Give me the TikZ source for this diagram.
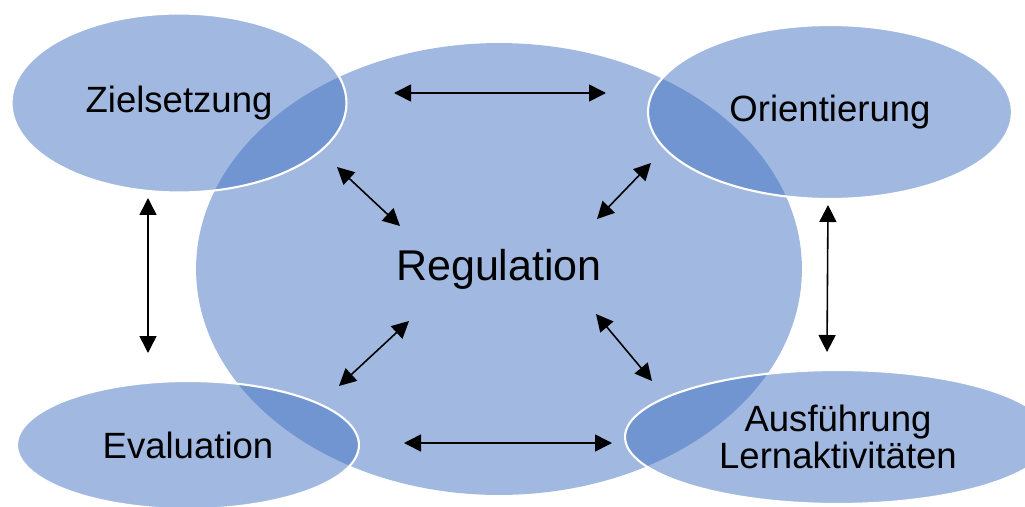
\documentclass[tikz,border=0pt]{standalone}
\usepackage{fontspec}
\setmainfont{Liberation Sans}
\usepackage{tikz}
\usetikzlibrary{shapes.geometric,arrows.meta}
\definecolor{phase}{RGB}{67,114,193}

\begin{document}
\begin{tikzpicture}[x=0.02cm,y=-0.02cm,>={Triangle[length=0.34cm,width=0.34cm]},
  phasebox/.style={ellipse,inner sep=0pt,fill=phase,fill opacity=0.5,text opacity=1,
    draw=white,line width=1.2pt,align=center,font=\fontsize{20.8}{21.5}\selectfont},
  link/.style={<->,line width=0.9pt}]
\useasboundingbox (0,0) rectangle (1025,507);
% central ellipse (no outline)
\node[phasebox,draw=none,minimum width=12.12cm,minimum height=9.04cm,
  font=\fontsize{24.5}{25}\selectfont] (reg) at (499,269) {Regulation};
% the four phases
\node[phasebox,minimum width=6.7cm,minimum height=3.58cm] (ziel) at (179,103) {Zielsetzung};
\node[phasebox,minimum width=7.28cm,minimum height=3.48cm] (orient) at (830,112) {Orientierung};
\node[phasebox,minimum width=6.84cm,minimum height=2.56cm] (eval) at (188,445) {Evaluation};
\node[phasebox,minimum width=8.52cm,minimum height=2.68cm] (ausf) at (838,437) {Ausführung\\Lernaktivitäten};
% arrow end points
\coordinate (t1) at (394,93);   \coordinate (t2) at (606,93);
\coordinate (b1) at (404,443);  \coordinate (b2) at (612,443);
\coordinate (l1) at (148,198);  \coordinate (l2) at (148,353);
\coordinate (r1) at (828,205);  \coordinate (r2) at (827,352);
\coordinate (ul1) at (337,167); \coordinate (ul2) at (400,226);
\coordinate (ur1) at (651,163); \coordinate (ur2) at (597,219);
\coordinate (ll1) at (409,321); \coordinate (ll2) at (339,386);
\coordinate (lr1) at (596,314); \coordinate (lr2) at (652,381);
% arrows
\draw[link] (t1) -- (t2);
\draw[link] (b1) -- (b2);
\draw[link] (l1) -- (l2);
\draw[link] (r1) -- (r2);
\draw[link] (ul1) -- (ul2);
\draw[link] (ur1) -- (ur2);
\draw[link] (ll1) -- (ll2);
\draw[link] (lr1) -- (lr2);
\end{tikzpicture}
\end{document}
